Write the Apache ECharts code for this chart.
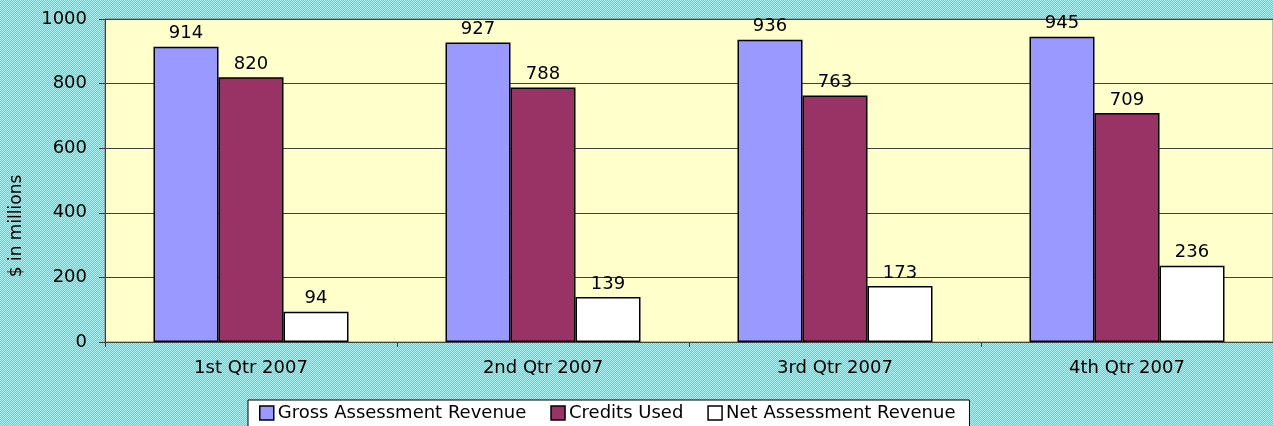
<!DOCTYPE html>
<html>
<head>
<meta charset="utf-8">
<script src="https://cdn.jsdelivr.net/npm/echarts@6/dist/echarts.min.js"></script>
<style>
  html, body { margin: 0; padding: 0; }
  #chart { width: 1273px; height: 426px; }
</style>
</head>
<body>
<div id="chart"></div>
<script>
var quarters = ['1st Qtr 2007', '2nd Qtr 2007', '3rd Qtr 2007', '4th Qtr 2007'];
var grossRevenue = [914, 927, 936, 945];
var creditsUsed = [820, 788, 763, 709];
var netRevenue = [94, 139, 173, 236];
var yTicks = [0, 200, 400, 600, 800, 1000];

// dithered cyan background
function makePattern() {
  var c = document.createElement('canvas');
  c.width = 2; c.height = 2;
  var ctx = c.getContext('2d');
  ctx.fillStyle = '#66d4d4';
  ctx.fillRect(0, 0, 2, 2);
  ctx.fillStyle = '#a8eeee';
  ctx.fillRect(0, 0, 1, 1);
  ctx.fillRect(1, 1, 1, 1);
  return c;
}

var font = '"DejaVu Sans", Verdana, sans-serif';
var chart = echarts.init(document.getElementById('chart'));

function barSeries(name, data, color) {
  return {
    name: name,
    type: 'bar',
    data: data,
    barWidth: 65,
    barGap: '0%',
    itemStyle: { color: color, borderColor: '#000', borderWidth: 1.5 },
    label: {
      show: true,
      position: 'top',
      distance: 4,
      color: '#000',
      fontFamily: font,
      fontSize: 18
    }
  };
}

var option = {
  animation: false,
  backgroundColor: { image: makePattern(), repeat: 'repeat' },
  grid: {
    left: 105, right: -3, top: 19, bottom: 84,
    show: true,
    backgroundColor: '#ffffcc',
    borderColor: '#808080',
    borderWidth: 1
  },
  legend: {
    top: 400,
    left: 248,
    padding: [4, 14, 8, 11],
    backgroundColor: '#fff',
    borderColor: '#000',
    borderWidth: 1,
    itemWidth: 14,
    itemHeight: 14,
    itemGap: 24,
    icon: 'rect',
    itemStyle: { borderColor: '#000', borderWidth: 1.5 },
    textStyle: { color: '#000', fontFamily: font, fontSize: 18, padding: [0, 0, 0, -1] }
  },
  xAxis: {
    type: 'category',
    data: quarters,
    axisLine: { lineStyle: { color: '#404040', width: 1 } },
    axisTick: { show: true, length: 5, lineStyle: { color: '#404040' } },
    axisLabel: { color: '#000', fontFamily: font, fontSize: 18, margin: 17 }
  },
  yAxis: {
    type: 'value',
    min: yTicks[0],
    max: yTicks[yTicks.length - 1],
    interval: 200,
    axisLine: { show: true, lineStyle: { color: '#404040', width: 1 } },
    axisTick: { show: true, length: 6, lineStyle: { color: '#404040' } },
    axisLabel: {
      color: '#000', fontFamily: font, fontSize: 18, margin: 18,
      formatter: function (v) { return String(v); }
    },
    splitLine: { lineStyle: { color: '#404040', width: 1 } }
  },
  graphic: [{
    type: 'text',
    x: 8,
    y: 226,
    rotation: Math.PI / 2,
    style: {
      text: '$ in millions',
      fill: '#000',
      font: '17px ' + font,
      align: 'center',
      verticalAlign: 'top'
    }
  }],
  series: [
    barSeries('Gross Assessment Revenue', grossRevenue, '#9999ff'),
    barSeries('Credits Used', creditsUsed, '#993366'),
    barSeries('Net Assessment Revenue', netRevenue, '#ffffff')
  ]
};
chart.setOption(option);
</script>
</body>
</html>
